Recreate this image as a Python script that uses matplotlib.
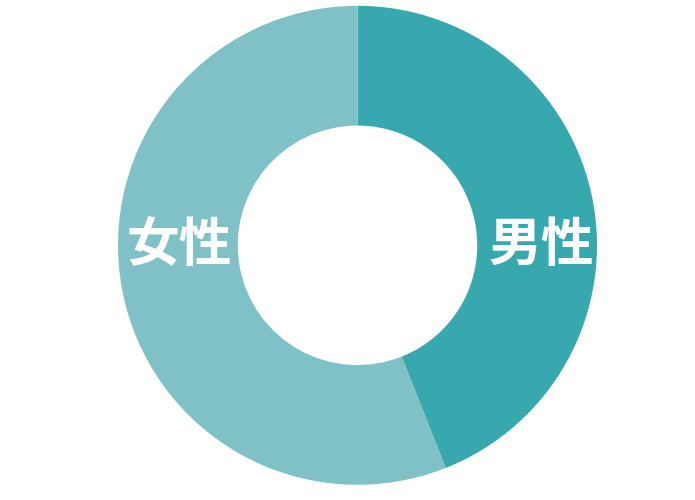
import matplotlib
matplotlib.use('Agg')
import matplotlib.pyplot as plt

plt.rcParams['font.family'] = ['Noto Sans CJK JP', 'DejaVu Sans']

# データ
labels = ['男性', '女性']
values = [44, 56]
colors = ['#38a8af', '#80c1c8']

fig = plt.figure(figsize=(6.95, 5.0), dpi=100)
fig.patch.set_facecolor('white')
ax = fig.add_axes([0.1698, 0.0304, 0.6892, 0.958])

ax.pie(values, colors=colors, startangle=90, counterclock=False,
       radius=1.0, wedgeprops=dict(width=0.5, linewidth=0))
ax.set_xlim(-1, 1)
ax.set_ylim(-1, 1)
ax.set_aspect('equal')
ax.axis('off')

# ラベル（水平位置に配置）
for lab, x in zip(labels, [0.766, -0.745]):
    ax.text(x, 0, lab, color='white', fontsize=38, fontweight='bold',
            ha='center', va='center')

fig.savefig('out.png', dpi=100, facecolor='white')
